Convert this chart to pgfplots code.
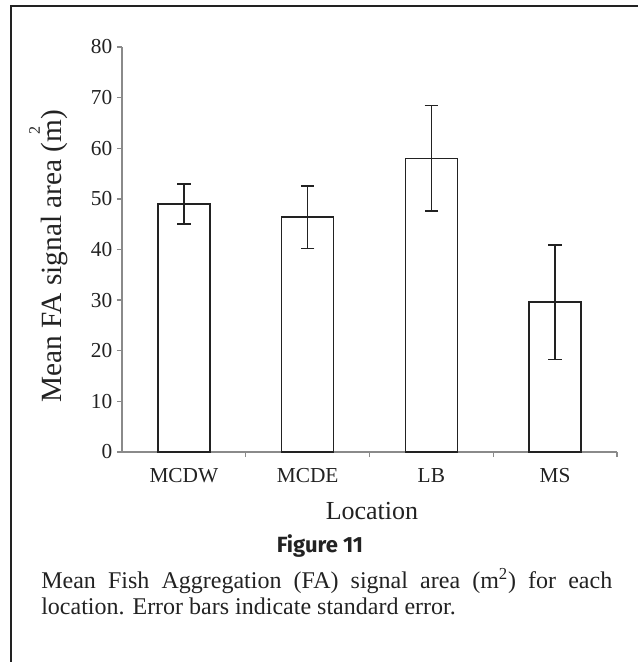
\documentclass[border=0pt]{standalone}
\usepackage{fontspec}
\setmainfont{Liberation Serif}
\newfontfamily\figfont{Fira Sans}
\usepackage{pgfplots}
\pgfplotsset{compat=1.18}
\definecolor{axgray}{HTML}{8A8A8A}
\definecolor{barblack}{HTML}{222222}
\begin{document}
\begin{tikzpicture}[x=0.75pt,y=0.75pt]
\useasboundingbox (0,0) rectangle (638,662);
\draw[line width=1.6pt, color=barblack] (11,656) -- (645,656);
\draw[line width=1.6pt, color=barblack] (11,656.8) -- (11,-5);
\begin{axis}[
  at={(91.5pt,157.5pt)}, anchor=south west,
  scale only axis, width=371.25pt, height=303.75pt,
  xmin=0.5, xmax=4.5, ymin=0, ymax=80,
  axis x line*=bottom, axis y line*=left,
  axis line style={axgray, line width=1pt, -},
  tick style={axgray, line width=1pt},
  tick align=outside, major tick length=3.75pt,
  ytick={0,10,...,80},
  xtick={1.5,2.5,3.5,4.5},
  xticklabels={MCDW,MCDE,LB,MS},
  xticklabel style={xshift=-46.4pt, yshift=-5pt, font=\fontsize{16}{18}\selectfont, text=barblack},
  yticklabel style={font=\fontsize{16}{18}\selectfont, text=barblack},
  /pgf/number format/assume math mode=true,
  ylabel={Mean FA signal area (m\llap{\makebox[0.78em][c]{\raisebox{0.75em}{\fontsize{12}{12}\selectfont 2}}})},
  ylabel style={at={(axis description cs:-0.148,0.484)}, anchor=center, font=\fontsize{22}{24}\selectfont, text=barblack},
  xlabel={Location},
  xlabel style={at={(axis description cs:0.505,-0.145)}, anchor=center, font=\fontsize{19.5}{22}\selectfont, text=barblack},
  clip=false,
]
\addplot[ybar, bar width=39pt, fill=white, draw=barblack, line width=1pt,
  error bars/.cd, y dir=both, y explicit,
  error bar style={line width=1pt, barblack},
  error mark options={rotate=90, mark size=5pt, line width=1pt, barblack}]
  coordinates {
  (1,49.0) +- (0,3.95)
  (2,46.4) +- (0,6.15)
  (3,58.0) +- (0,10.4)
  (4,29.6) +- (0,11.3)
  };
\end{axis}
\node[font=\figfont\bfseries\fontsize{16.5}{18}\selectfont, text=barblack] at (320,116) {Figure 11};
\node[anchor=base west, inner sep=0pt, font=\fontsize{18}{20}\selectfont, text=barblack] at (41,74)
  {\makebox[428.25pt][s]{Mean Fish Aggregation (FA) signal area (m\textsuperscript{2}) for each}};
\node[anchor=base west, inner sep=0pt, font=\fontsize{18}{20}\selectfont, text=barblack] at (41,47)
  {location. Error bars indicate standard error.};
\end{tikzpicture}
\end{document}
